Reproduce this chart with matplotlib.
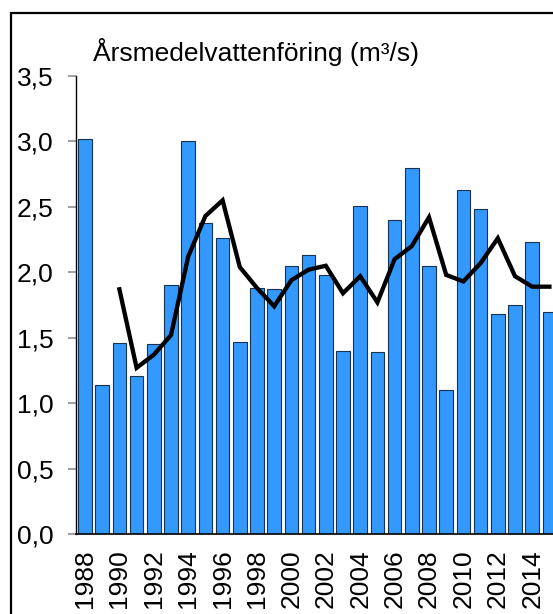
import matplotlib
matplotlib.use("Agg")
import matplotlib.pyplot as plt
from matplotlib.patches import Rectangle

years = list(range(1988, 2016))
flow = [3.02, 1.14, 1.46, 1.21, 1.45, 1.90, 3.00, 2.38, 2.26, 1.47,
        1.88, 1.87, 2.05, 2.13, 1.98, 1.40, 2.51, 1.39, 2.40, 2.80,
        2.05, 1.10, 2.63, 2.48, 1.68, 1.75, 2.23, 1.70]
avg_years = list(range(1990, 2016))
avg_flow = [1.87, 1.27, 1.37, 1.52, 2.12, 2.43, 2.55, 2.04, 1.88, 1.74,
            1.94, 2.02, 2.05, 1.84, 1.97, 1.77, 2.10, 2.20, 2.42, 1.98,
            1.93, 2.07, 2.26, 1.97, 1.89, 1.89]
yticks = [0.0, 0.5, 1.0, 1.5, 2.0, 2.5, 3.0, 3.5]
xtick_years = list(range(1988, 2016, 2))
title = "Årsmedelvattenföring (m³/s)"

plt.rcParams['font.family'] = ['Liberation Sans', 'DejaVu Sans']

W, H = 553, 614
fig = plt.figure(figsize=(W / 100, H / 100), dpi=100)

# outer frame (cropped at right/bottom)
fig.patches.append(Rectangle((11 / W, -0.05), 1.2, (H - 13) / H + 0.05,
                             transform=fig.transFigure, fill=False,
                             edgecolor='black', linewidth=1.6))

ax_left = 76.4 / W
ax_bottom = (H - 534) / H
ax_height = (534 - 76) / H
ax_width = 28 * 17.2 / W
ax = fig.add_axes([ax_left, ax_bottom, ax_width, ax_height])

x = [y - 1988 for y in years]
ax.bar(x, flow, width=0.785, color='#3399FF', edgecolor='#16324f',
       linewidth=0.8, zorder=2)
xa = [y - 1988 for y in avg_years]
ax.plot(xa, avg_flow, color='black', linewidth=3.1, zorder=3,
        solid_joinstyle='miter')

ax.set_xlim(-0.5, 27.5)
ax.set_ylim(0, 3.5)
ax.set_yticks(yticks)
ax.set_yticklabels([f"{v:.1f}".replace('.', ',') for v in yticks])
ax.set_xticks([y - 1988 for y in xtick_years])
ax.set_xticklabels([str(y) for y in xtick_years], rotation=90)

for s in ['top', 'right']:
    ax.spines[s].set_visible(False)
ax.spines['left'].set_linewidth(1.0)
ax.spines['bottom'].set_linewidth(1.2)
ax.tick_params(axis='y', length=6, width=1.2, color='#909090',
               labelsize=19, pad=10.5)
ax.tick_params(axis='x', length=0, labelsize=19, pad=11)

fig.text(93 / W, (H - 61) / H, title, fontsize=19, ha='left',
         va='baseline')

fig.savefig("out.png", dpi=100)
